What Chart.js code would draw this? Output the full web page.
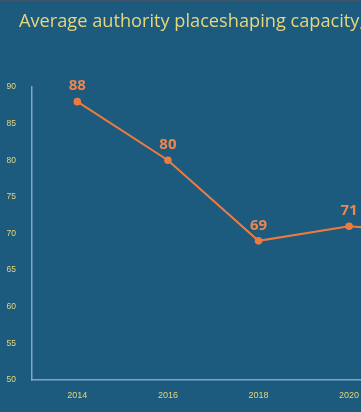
<!DOCTYPE html>
<html>
<head>
<meta charset="utf-8">
<script src="https://cdn.jsdelivr.net/npm/chart.js@4/dist/chart.umd.min.js"></script>
<style>
  html, body { margin: 0; padding: 0; background: #1c5a7e; overflow: hidden; }
  #wrap { width: 500px; height: 411px; border-top: 1px solid #3d5567; }
</style>
</head>
<body>
<div id="wrap"><canvas id="chart"></canvas></div>
<script>
var years = ["2014", "2016", "2018", "2020", "2022"];
var capacity = [88, 80, 69, 71, 70];
var yTicks = [50, 55, 60, 65, 70, 75, 80, 85, 90];
var titleText = "Average authority placeshaping capacity, 2014-2022";

var orange = "#ef7a3e";
var yellow = "#e6d67c";
var axisColor = "#7fa6c4";

//Title drawn by hand so it can sit off the left edge.
var titlePlugin = {
	id: "titlePlugin",
	afterDraw: function (chart) {
		var ctx = chart.ctx;
		ctx.save();
		ctx.fillStyle = yellow;
		ctx.font = "18.2px 'Open Sans', sans-serif";
		ctx.textAlign = "left";
		ctx.textBaseline = "middle";
		ctx.fillText(titleText, 19, 21);
		ctx.restore();
	}
};

//Draw the value above each point.
var valueLabels = {
	id: "valueLabels",
	afterDatasetsDraw: function (chart) {
		var ctx = chart.ctx;
		var meta = chart.getDatasetMeta(0);
		ctx.save();
		ctx.fillStyle = "#f0864f";
		ctx.font = "bold 15px 'Open Sans', sans-serif";
		ctx.textAlign = "center";
		ctx.textBaseline = "bottom";
		meta.data.forEach(function (pt, i) {
			ctx.fillText(capacity[i], pt.x, pt.y - 8);
		});
		ctx.restore();
	}
};

new Chart(document.getElementById("chart"), {
	type: "line",
	data: {
		labels: years,
		datasets: [{
			data: capacity,
			borderColor: orange,
			backgroundColor: orange,
			borderWidth: 2,
			pointRadius: 2.8,
			pointHoverRadius: 2.8,
			tension: 0
		}]
	},
	options: {
		responsive: true,
		maintainAspectRatio: false,
		animation: false,
		layout: { padding: { left: 0, right: 15, top: 86, bottom: 0 } },
		plugins: {
			legend: { display: false },
			tooltip: { enabled: false },
			title: { display: false }
		},
		scales: {
			x: {
				offset: true,
				grid: { display: false },
				border: { display: true, color: axisColor, width: 1.5 },
				ticks: {
					color: yellow,
					font: { family: "'Liberation Sans', Arial, sans-serif", size: 9 },
					padding: 2
				},
				afterFit: function (scale) { scale.height = 32; }
			},
			y: {
				min: 50,
				max: 90,
				grid: { display: false },
				border: { display: true, color: axisColor, width: 1.5 },
				afterBuildTicks: function (scale) {
					scale.ticks = yTicks.map(function (v) { return { value: v }; });
				},
				ticks: {
					color: yellow,
					font: { family: "'Liberation Sans', Arial, sans-serif", size: 8.5 },
					padding: 8
				},
				afterFit: function (scale) { scale.width = 32; }
			}
		}
	},
	plugins: [valueLabels, titlePlugin]
});
</script>
</body>
</html>
